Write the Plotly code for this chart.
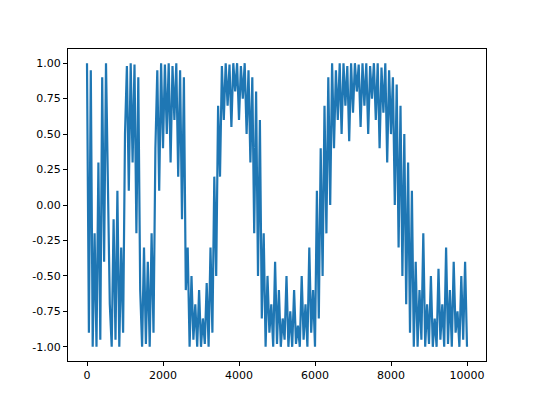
import plotly.graph_objects as go

y_vals = [1.0,-0.9,0.95,-1.0,
 -0.2,-1.0,0.3,-0.95,
 0.9,-0.4,1.0,0.2,-0.7,
 -1.0,-0.1,-0.95,0.1,-1.0,-0.3,-0.9,0.5,
 0.98,0.1,1.0,0.3,0.99,-0.2,0.9,-0.6,
 -1.0,-0.3,-0.98,-0.4,-1.0,-0.2,-0.9,0.4,
 0.95,0.1,1.0,0.4,0.99,0.5,1.0,0.3,0.98,0.6,1.0,0.2,0.95,-0.1,0.9,-0.6,
 -0.3,-1.0,-0.5,-0.95,-0.7,-1.0,-0.6,-1.0,-0.8,-0.98,-0.55,-1.0,-0.3,-0.9,0.2,-0.5,
 0.7,0.2,0.98,0.6,1.0,0.7,0.99,0.55,1.0,0.8,1.0,0.6,0.98,0.75,1.0,0.5,0.95,0.3,0.9,-0.2,0.8,-0.5,0.6,-0.8,
 -0.2,-1.0,-0.5,-0.9,-0.7,-1.0,-0.4,-0.98,-0.6,-1.0,-0.8,-0.95,-0.5,-1.0,-0.75,-1.0,-0.6,-0.98,-0.85,-1.0,-0.5,-0.95,-0.7,-1.0,-0.3,-0.9,-0.6,-1.0,0.1,-0.8,0.4,-0.5,0.7,-0.2,0.9,0.0,
 1.0,0.4,0.95,0.6,1.0,0.5,1.0,0.7,0.98,0.45,1.0,0.65,1.0,0.8,0.99,0.55,1.0,0.7,1.0,0.5,0.98,0.75,1.0,0.6,1.0,0.4,0.97,0.65,1.0,0.3,0.95,0.5,0.9,0.0,0.85,-0.3,0.7,-0.5,0.5,-0.7,0.3,-0.9,0.1,-1.0,
 -0.4,-1.0,-0.6,-0.95,-0.2,-1.0,-0.7,-0.98,-0.5,-1.0,-0.8,-1.0,-0.45,-0.95,-0.7,-1.0,-0.3,-0.98,-0.6,-1.0,-0.4,-0.9,-0.75,-1.0,-0.5,-0.95,-0.4,-1.0]
x_vals = list(range(0, 50 * len(y_vals), 50))

x_ticks = [0, 2000, 4000, 6000, 8000, 10000]
y_ticks = [-1.0, -0.75, -0.5, -0.25, 0.0, 0.25, 0.5, 0.75, 1.0]

fig = go.Figure(go.Scatter(x=x_vals, y=y_vals, mode="lines",
                           line=dict(color="#1f77b4", width=2.2)))
ax = dict(showgrid=False, zeroline=False, showline=True, linecolor="black",
          linewidth=1, mirror=True, ticks="outside", ticklen=4, tickcolor="black",
          tickfont=dict(family="DejaVu Sans", size=11, color="black"))
fig.update_layout(
    width=540, height=405, margin=dict(l=60, r=62, t=41, b=52),
    paper_bgcolor="white", plot_bgcolor="white", showlegend=False,
    xaxis=dict(range=[-500, 10500], tickvals=x_ticks,
               ticktext=[str(v) for v in x_ticks], **ax),
    yaxis=dict(range=[-1.1, 1.1], tickvals=y_ticks,
               ticktext=[f"{v:.2f}" for v in y_ticks], **ax),
)
fig.write_html("out.html")
